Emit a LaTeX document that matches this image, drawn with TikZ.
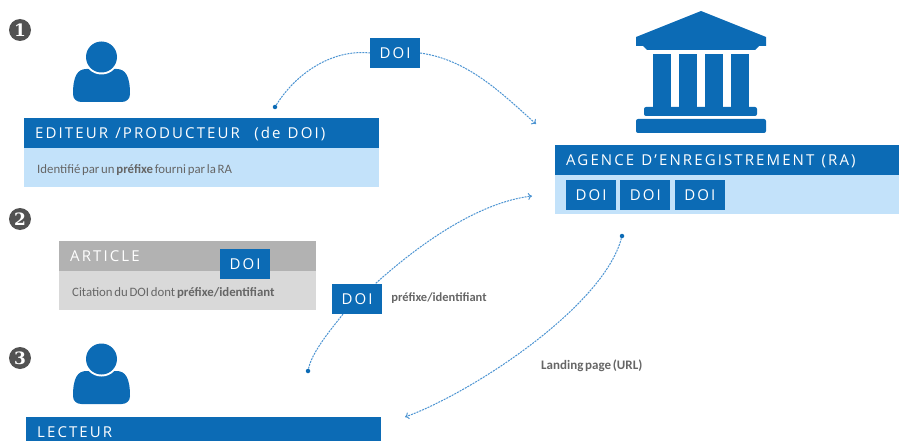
\documentclass[tikz,border=0pt]{standalone}
\usepackage{fontspec}
\setmainfont[WordSpace=0.6]{Carlito}
\newfontfamily\headfont[LetterSpace=14,WordSpace=1.2]{Open Sans}
\newfontfamily\numfont{DejaVu Serif}
\usetikzlibrary{positioning,arrows.meta}
\definecolor{doiblue}{HTML}{0C6BB5}
\definecolor{lightblue}{HTML}{C3E2FA}
\definecolor{linkblue}{HTML}{4C94D2}
\definecolor{textgray}{HTML}{666666}
\newcommand{\personicon}[2]{%
  \fill[doiblue] (#1-28.5,#2+37) .. controls (#1-28.5,#2+19) and (#1-24,#2+12) .. (#1-15,#2+12)
    -- (#1+15,#2+12) .. controls (#1+24,#2+12) and (#1+28.5,#2+19) .. (#1+28.5,#2+37)
    .. controls (#1+28.5,#2+42) and (#1+25,#2+45) .. (#1+20,#2+45)
    -- (#1-20,#2+45) .. controls (#1-25,#2+45) and (#1-28.5,#2+42) .. (#1-28.5,#2+37) -- cycle;
  \fill[white] (#1,#2) circle (17.5);
  \fill[doiblue] (#1,#2) circle (15.5);
}
\begin{document}
\begin{tikzpicture}[x=1pt,y=-1pt]
    \tikzstyle{header} = [fill=doiblue,text=white,font=\headfont\fontsize{15}{18}\selectfont,align=flush left,anchor=north west,minimum height=30pt,text height=11pt,text depth=0pt,inner xsep=11pt,inner ysep=0pt]
    \tikzstyle{body} = [fill=lightblue,text=textgray,font=\fontsize{12.8}{16}\selectfont,align=flush left,anchor=north west,minimum height=39pt,text height=12pt,text depth=1pt,inner xsep=13pt,inner ysep=0pt]
    \tikzstyle{doibox} = [fill=doiblue,text=white,font=\headfont\fontsize{15}{18}\selectfont,minimum width=50pt,minimum height=30pt,text height=11pt,text depth=0pt,inner sep=0pt]
    \tikzstyle{step number} = [circle,fill=black!68,text=white,font=\numfont\bfseries\fontsize{17}{17}\selectfont,minimum size=22pt,inner sep=0pt]
    \tikzstyle{dot} = [circle,fill=doiblue,minimum size=4.5pt,inner sep=0pt]
    \tikzstyle{plain link} = [linkblue,line width=1pt,dash pattern=on 2pt off 1pt]
    \tikzstyle{link} = [plain link,-{To[length=4pt,width=7pt]}]
    \tikzstyle{caption} = [text=textgray,font=\bfseries\fontsize{13}{15}\selectfont,anchor=west,inner sep=0pt]
    \useasboundingbox (0,0) rectangle (899,441);
    \clip (0,0) rectangle (899,441);
    % numbers
    \node[step number](one) at (20,30){1};
    \node[step number](two) at (20,219){2};
    \node[step number](three) at (20,358){3};
    % people
    \personicon{101.5}{57}
    \personicon{101.5}{359}
    % building
    \fill[doiblue] (701,11) -- (766,37) -- (766,46) -- (759,46) -- (755,50) -- (647,50) -- (643,46) -- (636,46) -- (636,37) -- cycle;
    \foreach \colx in {653,679,705,731}
        \fill[doiblue] (\colx,54) rectangle (\colx+18,108);
    \fill[doiblue,rounded corners=2pt] (644,116) -- (644,107) -- (757,107) -- (757,116) -- cycle;
    \fill[doiblue,rounded corners=2pt] (636,133) -- (636,119) -- (766,119) -- (766,133) -- cycle;
    % editeur
    \node[header,minimum width=355pt,text width=333pt](editeur) at (24,118){EDITEUR /PRODUCTEUR~~(de DOI)};
    \node[body,minimum width=355pt,text width=329pt](editeurbody) at (24,148){Identifié par un \textbf{préfixe} fourni par la RA};
    % agence
    \node[header,minimum width=344pt,text width=322pt](agence) at (555,145){AGENCE D’ENREGISTREMENT (RA)};
    \node[body,minimum width=344pt](agencebody) at (555,175){};
    \node[doibox](doiA) at (591,195){DOI};
    \node[doibox](doiB)[right=4pt of doiA]{DOI};
    \node[doibox](doiC)[right=4pt of doiB]{DOI};
    % article
    \node[header,fill=black!30,minimum width=257pt,text width=235pt](article) at (59,241){ARTICLE};
    \node[body,fill=black!15,minimum width=257pt,text width=231pt](articlebody) at (59,271){Citation du DOI dont \textbf{préfixe/identifiant}};
    \node[doibox](doiArticle) at (245,264){DOI};
    % lecteur
    \node[header,minimum width=355pt,text width=333pt](lecteur) at (26,417){LECTEUR};
    % doi in transit
    \node[doibox](doiTop) at (395,53){DOI};
    \node[doibox](doiMid) at (357,298.5){DOI};
    \node[caption,font=\bfseries\fontsize{12.5}{15}\selectfont](prefix)[right=9pt of doiMid]{préfixe/identifiant};
    \node[caption](landing) at (541,366){Landing page (URL)};
    % links
    \node[dot](dotEditeur) at (275,107){};
    \node[dot](dotLecteur) at (308,371){};
    \node[dot](dotAgence) at (622,236){};
    \coordinate (endAgenceA) at (536,124);
    \coordinate (endAgenceB) at (532,196);
    \coordinate (endLecteur) at (405,417);
    \draw[plain link] (dotEditeur) to[out=58,in=174,looseness=0.9] (doiTop.west);
    \draw[link] (doiTop.east) to[out=-8,in=138,looseness=0.9] (endAgenceA);
    \draw[plain link] (dotLecteur) to[out=78,in=-128,looseness=0.7] (doiMid.-132);
    \draw[link] (doiMid.39) to[out=42,in=187,looseness=0.8] (endAgenceB);
    \draw[link] (dotAgence) to[out=-105,in=20,looseness=0.65] (endLecteur);
\end{tikzpicture}
\end{document}
